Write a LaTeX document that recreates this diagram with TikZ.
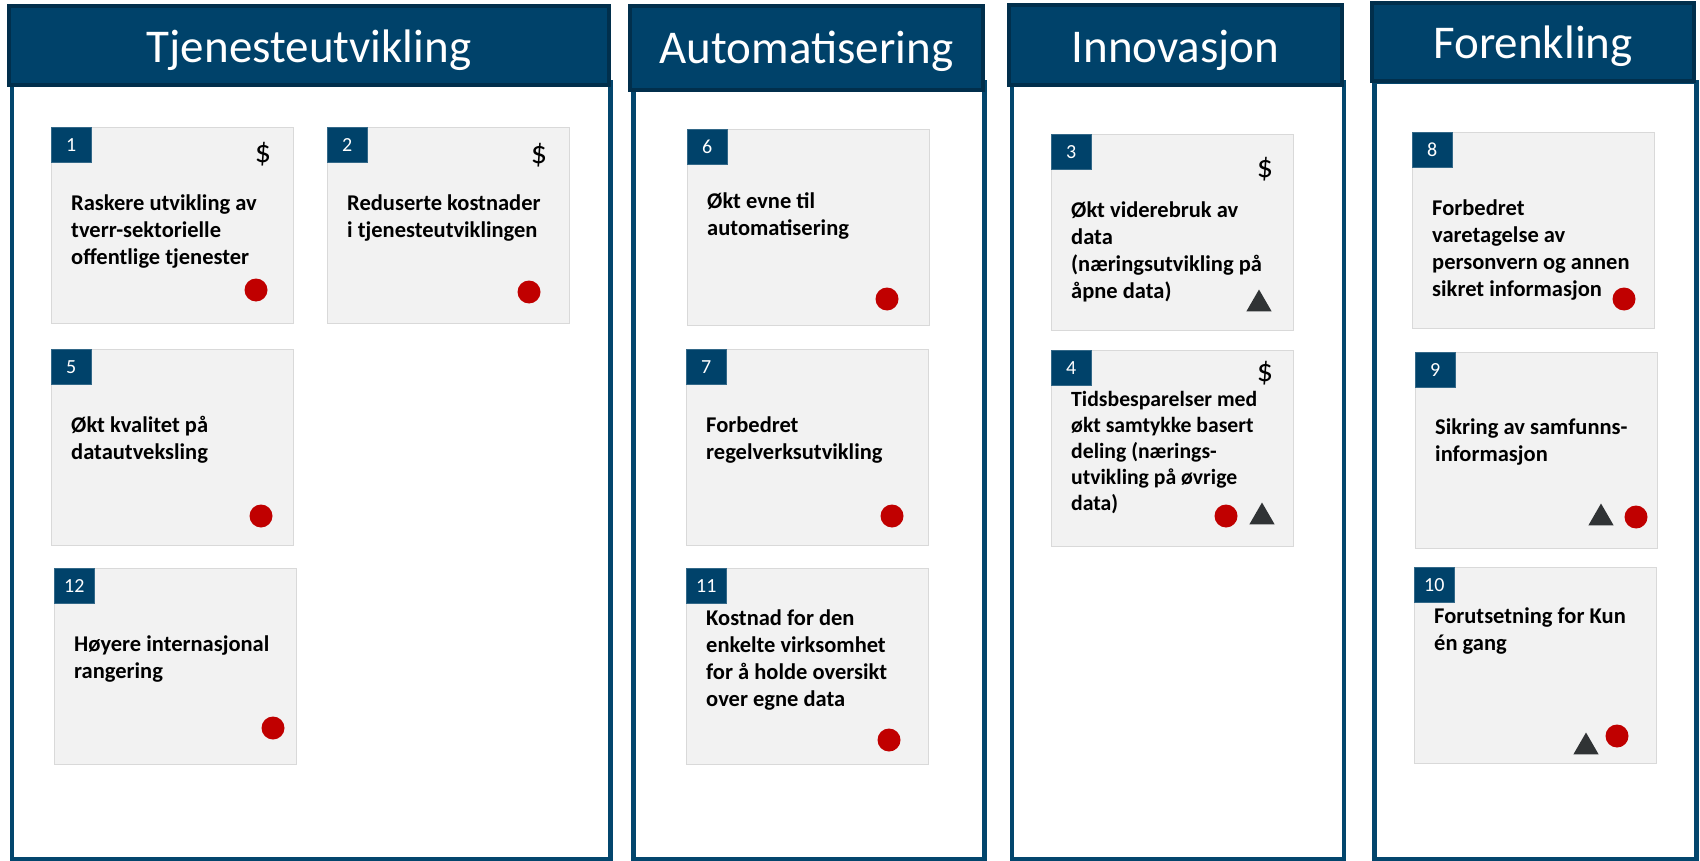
\documentclass[tikz,border=0pt]{standalone}
\usepackage{fontspec}
\setmainfont{Carlito}
\usetikzlibrary{shapes.geometric}
\definecolor{hdrblue}{HTML}{00426A}
\definecolor{hdrdark}{HTML}{012F4C}
\definecolor{colline}{HTML}{03466D}
\definecolor{cardfill}{HTML}{F2F2F2}
\definecolor{cardedge}{HTML}{D9D9D9}
\definecolor{dotred}{HTML}{C00000}
\definecolor{trigray}{HTML}{303335}
\tikzset{
  colbody/.style={draw=colline, line width=4.5pt, fill=white, inner sep=0pt, anchor=north west},
  header/.style={draw=hdrdark, line width=4pt, fill=hdrblue, text=white, inner xsep=0pt, inner ysep=0pt, anchor=base, font=\fontsize{47}{50}\selectfont},
  card/.style={draw=cardedge, line width=1pt, fill=cardfill, minimum width=242pt, minimum height=196pt, inner sep=0pt},
  numbox/.style={fill=hdrblue, draw=hdrblue!80!white, line width=0.6pt, text=white, minimum width=40pt, minimum height=35pt, inner sep=0pt, font=\fontsize{20}{24}\selectfont},
  cardtext/.style={align=left, inner sep=0pt, anchor=north west, font=\fontsize{22.5}{27}\selectfont\bfseries},
  smalltext/.style={font=\fontsize{21.7}{26}\selectfont\bfseries},
  reddot/.style={circle, fill=dotred, minimum size=23pt, inner sep=0pt},
  tri/.style={regular polygon, regular polygon sides=3, fill=trigray, minimum size=29pt, inner sep=0pt},
  dollar/.style={inner sep=0pt, font=\fontsize{32}{34}\selectfont}
}
% name, left, top, number, text-node top offset, extra style, text
\newcommand\mycard[7]{%
  \node[card, anchor=north west] (#1) at (#2,#3) {};
  \node[numbox, anchor=north west] (#1n) at (#1.north west) {#4};
  \node[cardtext, #6] (#1t) at (#2+20,#3+#5) {\strut #7};
}
\begin{document}
\begin{tikzpicture}[x=1pt, y=-1pt]
\useasboundingbox (0,0) rectangle (1700,861);
% column bodies
\node[colbody, minimum width=598.5pt, minimum height=777pt] (b1) at (9.5,80) {};
\node[colbody, minimum width=351pt, minimum height=777pt] (b2) at (631,80) {};
\node[colbody, minimum width=332pt, minimum height=777pt] (b3) at (1009.5,80) {};
\node[colbody, minimum width=322pt, minimum height=777pt] (b4) at (1372,80) {};
% headers
\node[header, minimum width=600pt, text height=57pt, text depth=22pt] (h1) at (309,63) {Tjenesteutvikling};
\node[header, minimum width=353pt, text height=58pt, text depth=26pt] (h2) at (806.5,64) {Automatisering};
\node[header, minimum width=333pt, text height=58pt, text depth=22pt] (h3) at (1175.5,63) {Innovasjon};
\node[header, minimum width=322pt, text height=56pt, text depth=22pt] (h4) at (1533,59) {Forenkling};
% column 1
\mycard{c1}{51}{127}{1}{64.1}{}{Raskere utvikling av\\tverr-sektorielle\\offentlige tjenester}
\mycard{c2}{327}{127}{2}{64.1}{}{Reduserte kostnader\\i tjenesteutviklingen}
\mycard{c5}{51}{349}{5}{64.1}{}{Økt kvalitet på\\datautveksling}
\mycard{c12}{54}{568}{12}{64.1}{}{Høyere internasjonal\\rangering}
% column 2
\mycard{c6}{687}{129}{6}{60.1}{}{Økt evne til\\automatisering}
\mycard{c7}{686}{349}{7}{64.1}{}{Forbedret\\regelverksutvikling}
\mycard{c11}{686}{568}{11}{38.1}{}{Kostnad for den\\enkelte virksomhet\\for å holde oversikt\\over egne data}
% column 3
\mycard{c3}{1051}{134}{3}{64.1}{}{Økt viderebruk av\\data\\(næringsutvikling på\\åpne data)}
\mycard{c4}{1051}{350}{4}{37.8}{smalltext}{Tidsbesparelser med\\økt samtykke basert\\deling (nærings-\\utvikling på øvrige\\data)}
% column 4
\mycard{c8}{1412}{132}{8}{64.1}{}{Forbedret\\varetagelse av\\personvern og annen\\sikret informasjon}
\mycard{c9}{1415}{352}{9}{63.1}{}{Sikring av samfunns-\\informasjon}
\mycard{c10}{1414}{567}{10}{37.1}{}{Forutsetning for Kun\\én gang}
% dollar signs
\node[dollar] (c1s) at (263,154) {\$};
\node[dollar] (c2s) at (539,155) {\$};
\node[dollar] (c3s) at (1265,169) {\$};
\node[dollar] (c4s) at (1265,373) {\$};
% red dots
\node[reddot] (c1d) at (256,290) {};
\node[reddot] (c2d) at (529,292) {};
\node[reddot] (c5d) at (261,516) {};
\node[reddot] (c12d) at (273,728) {};
\node[reddot] (c6d) at (887,299) {};
\node[reddot] (c7d) at (892,516) {};
\node[reddot] (c11d) at (889,740) {};
\node[reddot] (c4d) at (1226,516) {};
\node[reddot] (c8d) at (1624,299) {};
\node[reddot] (c9d) at (1636,517) {};
\node[reddot] (c10d) at (1617,736) {};
% triangles
\node[tri] (c3t) at (1259,304) {};
\node[tri] (c4t) at (1262,517) {};
\node[tri] (c9t) at (1601,518) {};
\node[tri] (c10t) at (1586,747) {};
\end{tikzpicture}
\end{document}
